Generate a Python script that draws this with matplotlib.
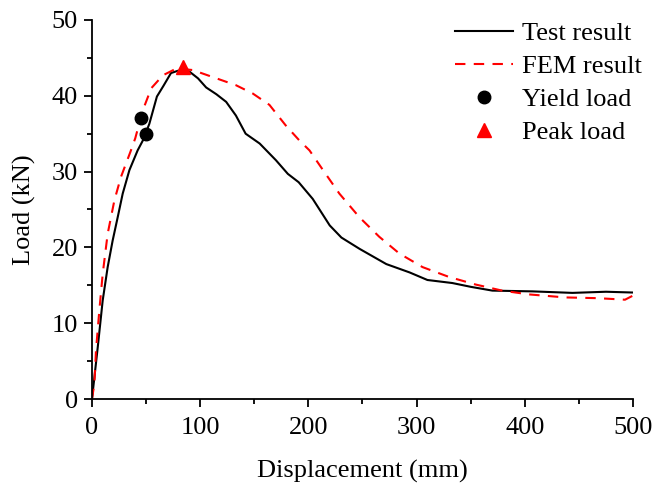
import numpy as np
import matplotlib
matplotlib.use('Agg')
from matplotlib import pyplot as plt
from matplotlib.ticker import MultipleLocator

# test curve (displacement mm, load kN)
test_x = [0, 5.3, 9.9, 14.5, 19.1, 23.8, 28.4, 34.6, 42.2, 47, 53, 60, 66, 73, 79.4, 90,
          98, 105.5, 115, 124, 133, 142, 155, 170, 181, 191, 204, 219.7, 230.5, 247.4,
          272, 293.5, 310, 333, 350, 370, 407, 444, 475, 499]
test_y = [0, 6.8, 13, 17.4, 20.9, 24, 27.1, 30.2, 32.8, 34.1, 36.3, 39.9, 41.3, 43, 43.3,
          43.2, 42.3, 41.1, 40.2, 39.2, 37.4, 35, 33.7, 31.5, 29.7, 28.6, 26.4, 22.9,
          21.3, 19.8, 17.8, 16.7, 15.7, 15.3, 14.8, 14.3, 14.2, 14.0, 14.15, 14.05]

# FEM curve
fem_x = [0, 2.2, 3.7, 6.8, 9.9, 14.5, 20.7, 26.8, 35.5, 40, 47, 54.8, 65.5, 78, 93, 115,
         133, 148.6, 164, 179, 191.7, 201, 213.5, 228.6, 247, 265.5, 284, 305.5, 330,
         354.6, 379, 403.7, 437.5, 468, 492.6, 499.4]
fem_y = [0, 2.0, 6.4, 11.7, 16.5, 21.8, 26.2, 29.3, 32.6, 34.4, 38.1, 41, 42.7, 43.6,
         43.4, 42.3, 41.4, 40.3, 38.8, 36.1, 34.1, 32.8, 30.2, 27.1, 24, 21.4, 19.2,
         17.4, 16.1, 15.1, 14.3, 13.8, 13.4, 13.3, 13.1, 13.6]

yield_x = [45.5, 50.2]
yield_y = [37.1, 34.9]
peak_x = [84]
peak_y = [43.8]

plt.rcParams['font.family'] = ['Liberation Serif']
plt.rcParams['font.size'] = 19

fig = plt.figure(figsize=(6.57, 4.84), dpi=100)
ax = fig.add_axes([0.140, 0.1756, 0.8235, 0.7831])

ax.plot(test_x, test_y, color='black', lw=1.5, label='Test result')
ax.plot(fem_x, fem_y, color='red', lw=1.5, ls=(0, (5, 4)), label='FEM result')
ax.plot(yield_x, yield_y, 'o', color='black', ms=9, ls='none', label='Yield load', clip_on=False)
ax.plot(peak_x, peak_y, '^', color='red', ms=10, ls='none', label='Peak load', clip_on=False)

ax.set_xlim(0, 500)
ax.set_ylim(0, 50)
ax.xaxis.set_major_locator(MultipleLocator(100))
ax.xaxis.set_minor_locator(MultipleLocator(50))
ax.yaxis.set_major_locator(MultipleLocator(10))
ax.yaxis.set_minor_locator(MultipleLocator(5))
ax.tick_params(which='major', direction='out', length=6, width=1.3, pad=4)
ax.tick_params(axis='x', which='major', pad=7)
ax.tick_params(which='minor', direction='out', length=3.5, width=1.3)
ax.spines['top'].set_visible(False)
ax.spines['right'].set_visible(False)
ax.spines['left'].set_linewidth(1.3)
ax.spines['bottom'].set_linewidth(1.3)

ax.set_xlabel('Displacement (mm)', labelpad=15)
ax.set_ylabel('Load (kN)', labelpad=11)

ax.legend(loc='upper right', bbox_to_anchor=(1.056, 1.052), frameon=False,
          handlelength=2.2, labelspacing=0.36, handletextpad=0.35, borderpad=0.3)

plt.savefig('out.png')
